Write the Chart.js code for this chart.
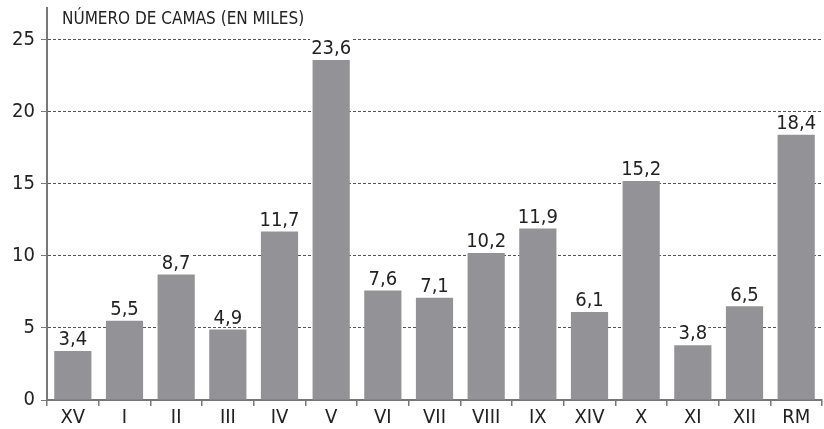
<!DOCTYPE html>
<html lang="es">
<head>
  <meta charset="UTF-8" />
  <title>Número de camas</title>
  <script src="https://cdn.jsdelivr.net/npm/chart.js"></script>
  <style>
    body { margin: 0; background: white; }
    .wrap { width: 824px; height: 429px; }
  </style>
</head>
<body>
  <div class="wrap"><canvas id="chart"></canvas></div>
  <script>
    const regions = ["XV", "I", "II", "III", "IV", "V", "VI", "VII", "VIII", "IX", "XIV", "X", "XI", "XII", "RM"];
    const camas = [3.4, 5.5, 8.7, 4.9, 11.7, 23.6, 7.6, 7.1, 10.2, 11.9, 6.1, 15.2, 3.8, 6.5, 18.4];
    const yTicks = [0, 5, 10, 15, 20, 25];
    const title = "NÚMERO DE CAMAS (EN MILES)";

    const FONT = "'Liberation Sans Narrow', 'DejaVu Sans Condensed', 'Roboto Condensed', sans-serif";

    // etiquetas de valor sobre cada barra, con fondo blanco
    const valueLabels = {
      id: "valueLabels",
      afterDatasetsDraw(chart) {
        const ctx = chart.ctx;
        const meta = chart.getDatasetMeta(0);
        ctx.save();
        ctx.font = "20px " + FONT;
        ctx.textAlign = "center";
        ctx.textBaseline = "bottom";
        meta.data.forEach((bar, i) => {
          const txt = camas[i].toFixed(1).replace(".", ",");
          const w = ctx.measureText(txt).width;
          ctx.fillStyle = "white";
          ctx.fillRect(bar.x - w / 2 - 1, bar.y - 21, w + 2, 18);
          ctx.fillStyle = "#222";
          ctx.fillText(txt, bar.x, bar.y - 1);
        });
        ctx.font = "17px " + FONT;
        ctx.textAlign = "left";
        ctx.textBaseline = "middle";
        ctx.fillText(title, chart.chartArea.left + 15, 20);
        ctx.restore();
      }
    };

    new Chart(document.getElementById("chart"), {
      type: "bar",
      data: {
        labels: regions,
        datasets: [{
          data: camas,
          backgroundColor: "#939397",
          barPercentage: 0.72,
          categoryPercentage: 1
        }]
      },
      options: {
        responsive: true,
        maintainAspectRatio: false,
        animation: false,
        layout: { padding: { top: 8, right: 2, left: 0, bottom: 0 } },
        plugins: { legend: { display: false }, tooltip: { enabled: false } },
        scales: {
          x: {
            offset: true,
            grid: { offset: true, drawOnChartArea: false, drawTicks: true, tickLength: 6, color: "#777", lineWidth: 1.5 },
            border: { display: true, color: "#777", width: 2 },
            ticks: { color: "#222", font: { family: FONT, size: 20 }, padding: 0 },
            afterFit(axis) { axis.height = 29; axis.paddingLeft = 0; axis.paddingRight = 0; }
          },
          y: {
            min: 0,
            max: 27.2,
            afterBuildTicks(axis) { axis.ticks = yTicks.map(v => ({ value: v })); },
            grid: {
              color: ctx => ctx.tick && ctx.tick.value === 0 ? "rgba(0,0,0,0)" : "#555",
              lineWidth: 1,
              tickLength: 6,
              tickColor: "#777"
            },
            border: { display: true, color: "#777", width: 2, dash: [3, 2] },
            ticks: { color: "#222", font: { family: FONT, size: 20 }, padding: 6 },
            afterFit(axis) { axis.width = 47; axis.paddingTop = 0; axis.paddingBottom = 0; }
          }
        }
      },
      plugins: [valueLabels]
    });
  </script>
</body>
</html>
